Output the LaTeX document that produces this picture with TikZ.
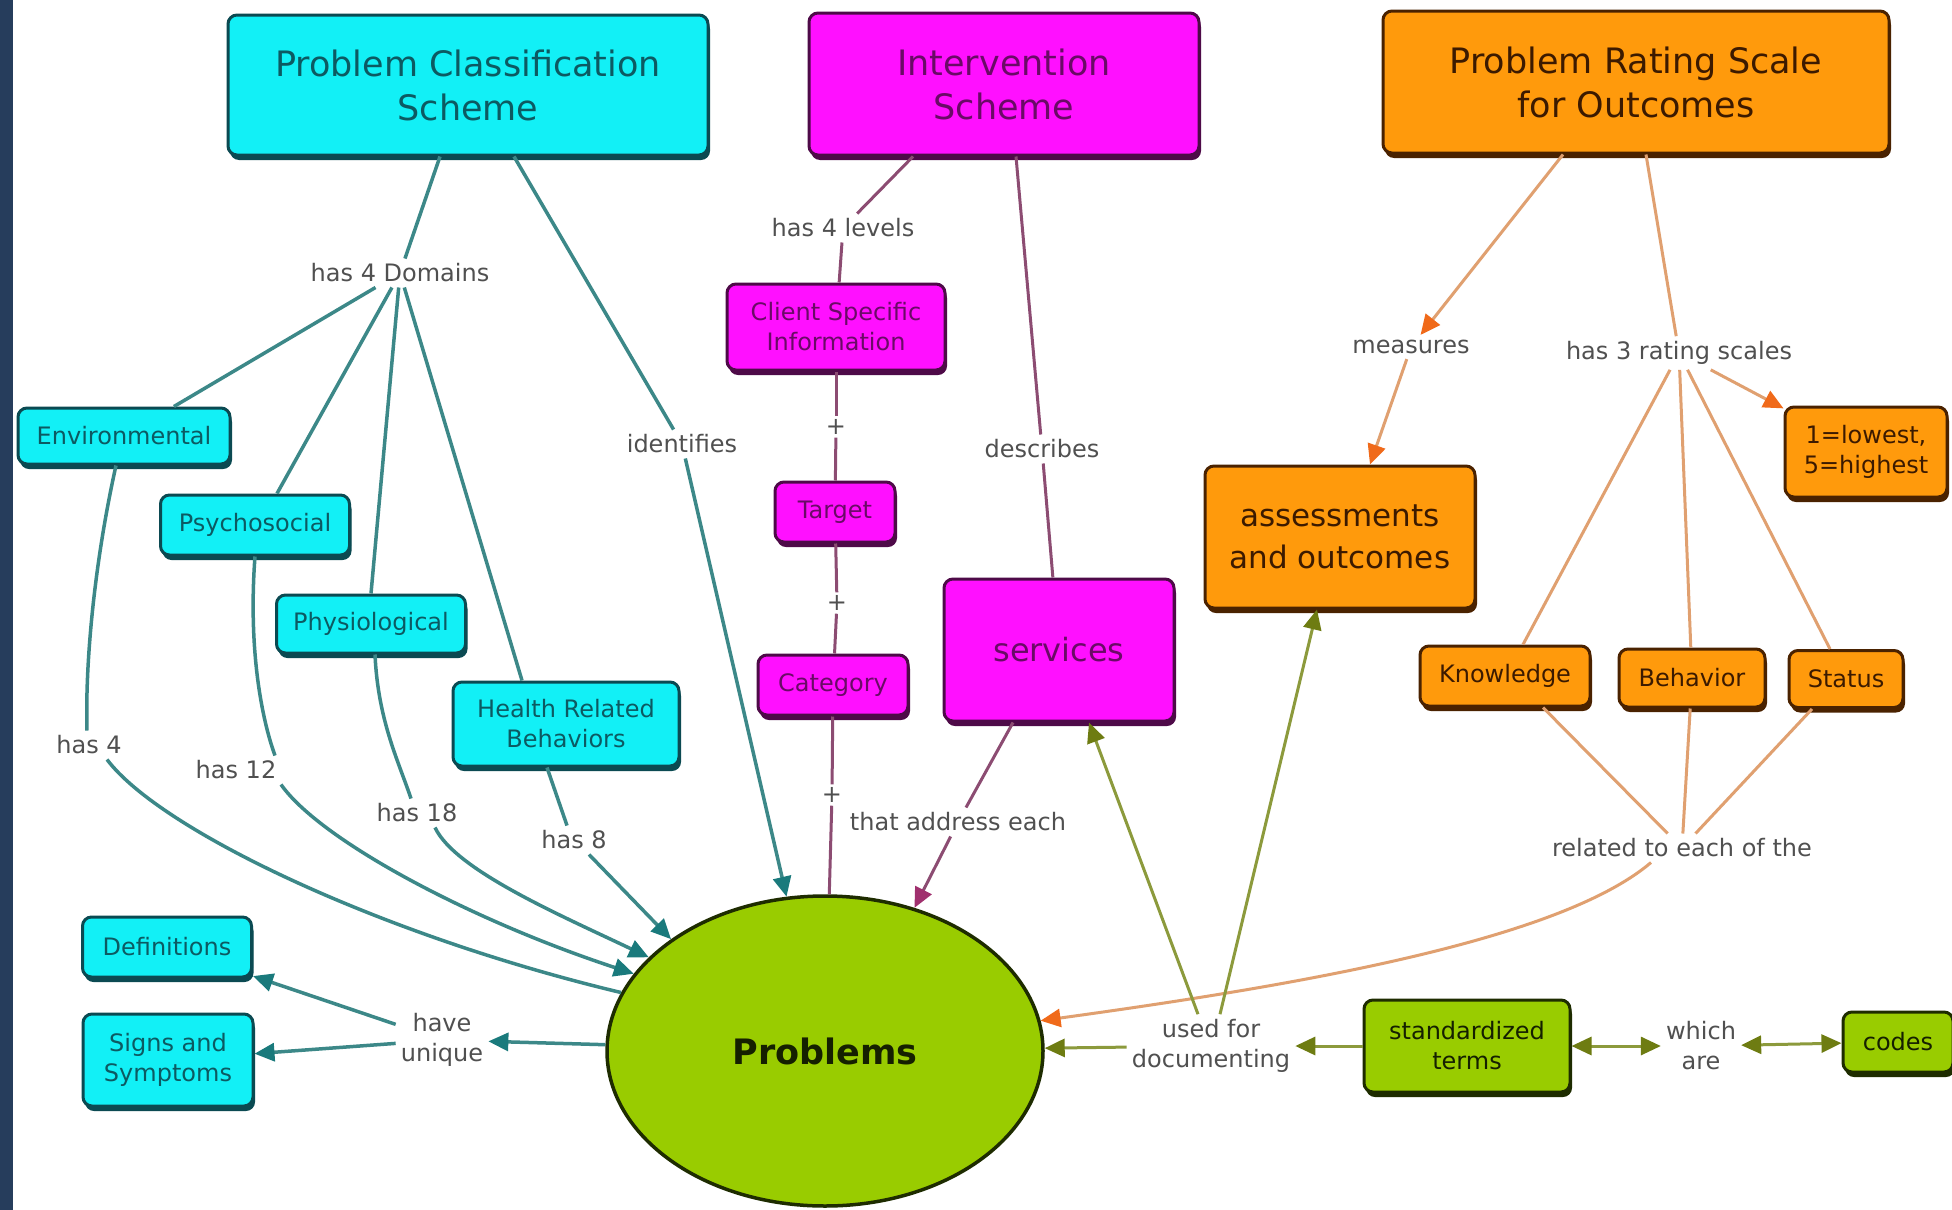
\documentclass[tikz,border=0pt]{standalone}
\usepackage{fontspec}
\setmainfont{DejaVu Sans}
\usetikzlibrary{arrows.meta,shapes.geometric,shadows}
\definecolor{navy}{HTML}{263D5C}
\definecolor{cyfill}{HTML}{12F0F6}
\definecolor{cyline}{HTML}{0B4A52}
\definecolor{cytext}{HTML}{0C5A62}
\definecolor{tealc}{HTML}{3C8888}
\definecolor{tealhead}{HTML}{1A7A7C}
\definecolor{mgfill}{HTML}{FF10FF}
\definecolor{mgline}{HTML}{4E0A48}
\definecolor{mgtext}{HTML}{6A0A66}
\definecolor{mgconn}{HTML}{8C4C72}
\definecolor{mghead}{HTML}{A0306E}
\definecolor{ogfill}{HTML}{FF9A0C}
\definecolor{ogline}{HTML}{4A2200}
\definecolor{ogtext}{HTML}{3C1A00}
\definecolor{ogconn}{HTML}{E0A070}
\definecolor{oghead}{HTML}{F06A1A}
\definecolor{grfill}{HTML}{99CC00}
\definecolor{grline}{HTML}{1E2C00}
\definecolor{grtext}{HTML}{152000}
\definecolor{olconn}{HTML}{8C9A3C}
\definecolor{olhead}{HTML}{6E7C12}
\definecolor{lbltext}{HTML}{505050}
\tikzset{
  box/.style={rectangle, rounded corners=9pt, line width=3pt, inner sep=0pt, align=center},
  cbox/.style={box, fill=cyfill, draw=cyline, text=cytext, drop shadow={shadow xshift=2pt, shadow yshift=-5pt, fill=cyline, opacity=1}},
  mbox/.style={box, fill=mgfill, draw=mgline, text=mgtext, drop shadow={shadow xshift=2pt, shadow yshift=-5pt, fill=mgline, opacity=1}},
  obox/.style={box, fill=ogfill, draw=ogline, text=ogtext, drop shadow={shadow xshift=2pt, shadow yshift=-5pt, fill=ogline, opacity=1}},
  gbox/.style={box, fill=grfill, draw=grline, text=grtext, drop shadow={shadow xshift=2pt, shadow yshift=-5pt, fill=grline, opacity=1}},
  small/.style={font=\fontsize{24}{30}\selectfont},
  big/.style={font=\fontsize{35}{44}\selectfont},
  lbl/.style={inner sep=5pt, align=center, text=lbltext, font=\fontsize{24}{30}\selectfont},
  plus/.style={inner sep=3pt, text=lbltext, font=\fontsize{24}{24}\selectfont},
  tl/.style={draw=tealc, line width=3.5pt},
  tla/.style={tl, -{Triangle[length=20pt,width=18pt,color=tealhead]}},
  mg/.style={draw=mgconn, line width=3pt},
  mga/.style={mg, -{Triangle[length=20pt,width=18pt,color=mghead]}},
  og/.style={draw=ogconn, line width=3pt},
  oga/.style={og, -{Triangle[length=20pt,width=18pt,color=oghead]}},
  ol/.style={draw=olconn, line width=3pt},
  ola/.style={ol, -{Triangle[length=20pt,width=18pt,color=olhead]}},
  olb/.style={ol, {Triangle[length=20pt,width=18pt,color=olhead]}-{Triangle[length=20pt,width=18pt,color=olhead]}},
}
\begin{document}
\begin{tikzpicture}[x=1pt,y=-1pt]
\useasboundingbox (0,0) rectangle (1952,1210);
\fill[white] (0,0) rectangle (1952,1210);
\fill[navy] (0,0) rectangle (13,1210);

% main concept boxes
\node[cbox,big,minimum width=480pt,minimum height=140pt] (pcs) at (468,85) {Problem Classification\\Scheme};
\node[mbox,big,minimum width=390pt,minimum height=142pt] (is) at (1004,84) {Intervention\\Scheme};
\node[obox,big,minimum width=506pt,minimum height=142pt] (prs) at (1636,82) {Problem Rating Scale\\for Outcomes};

% cyan
\node[cbox,small,minimum width=212pt,minimum height=56pt] (env) at (124,436) {Environmental};
\node[cbox,small,minimum width=189pt,minimum height=60pt] (psy) at (255,525) {Psychosocial};
\node[cbox,small,minimum width=189pt,minimum height=58pt] (phy) at (371,624) {Physiological};
\node[cbox,small,minimum width=226pt,minimum height=84pt] (hrb) at (566,724) {Health Related\\Behaviors};
\node[cbox,small,minimum width=169pt,minimum height=60pt] (defs) at (167,947) {Definitions};
\node[cbox,small,minimum width=170pt,minimum height=92pt] (signs) at (168,1060) {Signs and\\Symptoms};

% magenta
\node[mbox,small,minimum width=218pt,minimum height=86pt] (csi) at (836,327) {Client Specific\\Information};
\node[mbox,small,minimum width=120pt,minimum height=60pt] (tgt) at (835,512) {Target};
\node[mbox,small,minimum width=150pt,minimum height=60pt] (cat) at (833,685) {Category};
\node[mbox,font=\fontsize{32}{40}\selectfont,minimum width=230pt,minimum height=142pt] (svc) at (1059,650) {services};

% orange
\node[obox,font=\fontsize{31}{42}\selectfont,minimum width=270pt,minimum height=142pt] (ao) at (1340,537) {assessments\\and outcomes};
\node[obox,small,minimum width=162pt,minimum height=90pt] (low) at (1866,452) {1=lowest,\\5=highest};
\node[obox,small,minimum width=170pt,minimum height=60pt] (know) at (1505,676) {Knowledge};
\node[obox,small,minimum width=146pt,minimum height=58pt] (beh) at (1692,678) {Behavior};
\node[obox,small,minimum width=114pt,minimum height=57pt] (sta) at (1846,679) {Status};

% green
\node[ellipse, fill=grfill, draw=grline, line width=3.5pt, text=grtext, inner sep=0pt, minimum width=436pt, minimum height=310pt, font=\fontsize{35}{44}\selectfont\bfseries] (prob) at (825,1051) {Problems};
\node[gbox,small,minimum width=206pt,minimum height=92pt] (std) at (1467,1046) {standardized\\terms};
\node[gbox,small,minimum width=110pt,minimum height=60pt] (codes) at (1898,1042) {codes};

% linking phrases
\node[lbl] (h4d) at (400,273) {has 4 Domains};
\node[lbl] (ident) at (682,444) {identifies};
\node[lbl] (h4l) at (843,228) {has 4 levels};
\node[plus] (p1) at (836,427) {+};
\node[plus] (p2) at (837,603) {+};
\node[plus] (p3) at (832,795) {+};
\node[lbl] (desc) at (1042,449) {describes};
\node[lbl] (meas) at (1411,347) {measures};
\node[lbl] (h3r) at (1679,353) {has 3 rating scales};
\node[lbl] (h4) at (89,745) {has 4};
\node[lbl] (h12) at (236,770) {has 12};
\node[lbl] (h18) at (417,813) {has 18};
\node[lbl] (h8) at (574,840) {has 8};
\node[lbl] (tae) at (958,822) {that address each};
\node[lbl] (rel) at (1682,848) {related to each of the};
\node[lbl] (hu) at (442,1040) {have\\unique};
\node[lbl] (udoc) at (1211,1046) {used for\\documenting};
\node[lbl] (wa) at (1701,1046) {which\\are};

% teal connectors
\draw[tl] ([xshift=-28pt]pcs.south) -- (h4d);
\draw[tl] (h4d) -- (env);
\draw[tl] (h4d) -- ([xshift=22pt]psy.north);
\draw[tl] (h4d) -- (phy.north);
\draw[tl] (h4d) -- ([xshift=-44pt]hrb.north);
\draw[tl] ([xshift=46pt]pcs.south) -- (ident);
\draw[tla] (ident) -- (prob.104);
\draw[tl] ([xshift=-8pt]env.south) .. controls (95,560) and (85,660) .. ([xshift=-2pt]h4.north);
\draw[tl] (psy.south) .. controls (248,650) and (262,720) .. ([xshift=39pt]h12.north);
\draw[tl] ([xshift=4pt]phy.south) .. controls (378,720) and (398,760) .. ([xshift=-6pt]h18.north);
\draw[tl] ([xshift=-19pt]hrb.south) -- ([xshift=-7pt]h8.north);
\draw[tl] ([xshift=18pt]h4.south) .. controls (160,830) and (380,935) .. (prob.164);
\draw[tla] ([xshift=45pt]h12.south) .. controls (320,840) and (470,920) .. (prob.158);
\draw[tla] ([xshift=18pt]h18.south) .. controls (455,870) and (560,915) .. (prob.152);
\draw[tla] ([xshift=15pt]h8.south) -- (prob.144);
\draw[tla] (prob) -- (hu);
\draw[tla] (hu) -- (defs);
\draw[tla] (hu) -- (signs);

% magenta connectors
\draw[mg] ([xshift=-91pt]is.south) -- (h4l);
\draw[mg] (h4l) -- (csi);
\draw[mg] (csi) -- (p1);
\draw[mg] (p1) -- (tgt);
\draw[mg] (tgt) -- (p2);
\draw[mg] (p2) -- (cat);
\draw[mg] (cat) -- (p3);
\draw[mg] (p3) -- (prob);
\draw[mg] ([xshift=12pt]is.south) -- (desc);
\draw[mg] (desc) -- (svc);
\draw[mg] ([xshift=-46pt]svc.south) -- (tae);
\draw[mga] (tae) -- (prob.58);

% orange connectors
\draw[oga] ([xshift=-73pt]prs.south) -- (meas);
\draw[oga] (meas) -- ([xshift=30pt]ao.north);
\draw[og] ([xshift=10pt]prs.south) -- (h3r);
\draw[oga] (h3r) -- (low);
\draw[og] (h3r) -- ([xshift=18pt]know.north);
\draw[og] (h3r) -- (beh);
\draw[og] (h3r) -- ([xshift=-16pt]sta.north);
\draw[og] ([xshift=38pt]know.south) -- (rel);
\draw[og] (beh) -- (rel);
\draw[og] ([xshift=-34pt]sta.south) -- (rel);
\draw[oga] ([xshift=-31pt]rel.south) .. controls (1560,940) and (1300,985) .. (prob.8);

% olive connectors
\draw[ola] (udoc) -- (prob);
\draw[ola] ([xshift=-13pt]udoc.north) -- ([xshift=30pt]svc.south);
\draw[ola] ([xshift=9pt]udoc.north) -- ([xshift=-23pt]ao.south);
\draw[ola] (std) -- (udoc);
\draw[olb] (std) -- (wa);
\draw[olb] (wa) -- (codes);
\end{tikzpicture}
\end{document}
